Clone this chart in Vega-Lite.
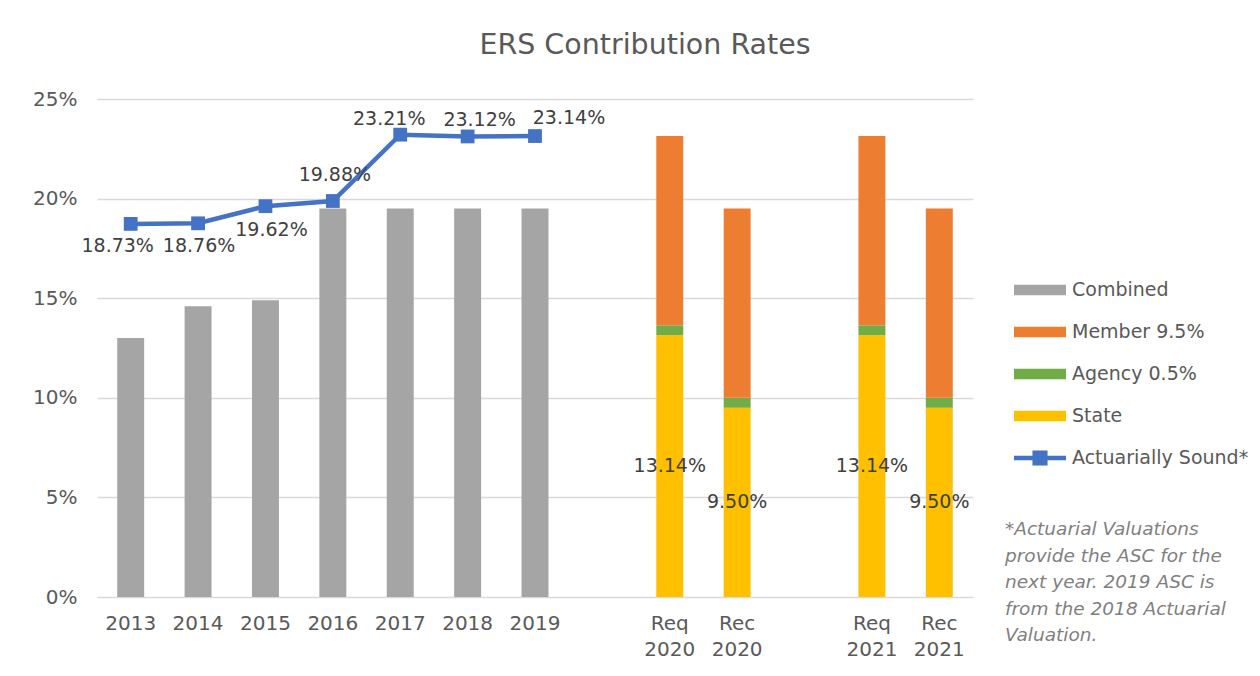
{
  "$schema": "https://vega.github.io/schema/vega-lite/v6.json",
  "width": 876,
  "height": 498,
  "autosize": {"type": "none"},
  "padding": {"left": 97, "top": 99, "right": 287, "bottom": 79},
  "background": "white",
  "title": {
    "text": "ERS Contribution Rates",
    "anchor": "middle",
    "dx": 110,
    "offset": 7,
    "baseline": "alphabetic",
    "fontSize": 28.5,
    "font": "DejaVu Sans",
    "fontWeight": "normal",
    "color": "#595959"
  },
  "config": {
    "view": {"stroke": null},
    "font": "DejaVu Sans",
    "text": {"font": "DejaVu Sans"}
  },
  "datasets": {
    "bars": [
      {"cat": "2013", "component": "Combined", "value": 0.130},
      {"cat": "2014", "component": "Combined", "value": 0.146},
      {"cat": "2015", "component": "Combined", "value": 0.149},
      {"cat": "2016", "component": "Combined", "value": 0.195},
      {"cat": "2017", "component": "Combined", "value": 0.195},
      {"cat": "2018", "component": "Combined", "value": 0.195},
      {"cat": "2019", "component": "Combined", "value": 0.195},
      {"cat": "Req 2020", "component": "State", "value": 0.1314},
      {"cat": "Req 2020", "component": "Agency 0.5%", "value": 0.005},
      {"cat": "Req 2020", "component": "Member 9.5%", "value": 0.095},
      {"cat": "Rec 2020", "component": "State", "value": 0.095},
      {"cat": "Rec 2020", "component": "Agency 0.5%", "value": 0.005},
      {"cat": "Rec 2020", "component": "Member 9.5%", "value": 0.095},
      {"cat": "Req 2021", "component": "State", "value": 0.1314},
      {"cat": "Req 2021", "component": "Agency 0.5%", "value": 0.005},
      {"cat": "Req 2021", "component": "Member 9.5%", "value": 0.095},
      {"cat": "Rec 2021", "component": "State", "value": 0.095},
      {"cat": "Rec 2021", "component": "Agency 0.5%", "value": 0.005},
      {"cat": "Rec 2021", "component": "Member 9.5%", "value": 0.095}
    ],
    "asc": [
      {"cat": "2013", "asc": 0.1873},
      {"cat": "2014", "asc": 0.1876},
      {"cat": "2015", "asc": 0.1962},
      {"cat": "2016", "asc": 0.1988},
      {"cat": "2017", "asc": 0.2321},
      {"cat": "2018", "asc": 0.2312},
      {"cat": "2019", "asc": 0.2314}
    ]
  },
  "encoding": {
    "x": {
      "field": "cat",
      "type": "nominal",
      "sort": null,
      "scale": {
        "domain": ["2013", "2014", "2015", "2016", "2017", "2018", "2019", "gap1", "Req 2020", "Rec 2020", "gap2", "Req 2021", "Rec 2021"],
        "paddingInner": 0.6,
        "paddingOuter": 0.3
      },
      "axis": {
        "title": null,
        "labelExpr": "indexof(datum.label, 'gap') >= 0 ? '' : split(datum.label, ' ')",
        "labelAngle": 0,
        "ticks": false,
        "domain": false,
        "grid": false,
        "labelFontSize": 20,
        "labelColor": "#595959",
        "labelPadding": 16,
        "labelLineHeight": 26,
        "labelFont": "DejaVu Sans"
      }
    }
  },
  "layer": [
    {
      "data": {"name": "bars"},
      "transform": [
        {"calculate": "indexof(['Combined', 'State', 'Agency 0.5%', 'Member 9.5%'], datum.component)", "as": "stackIdx"}
      ],
      "mark": {"type": "bar"},
      "encoding": {
        "y": {
          "field": "value",
          "type": "quantitative",
          "stack": "zero",
          "scale": {"domain": [0, 0.25], "nice": false},
          "axis": {
            "title": null,
            "format": ".0%",
            "values": [0, 0.05, 0.1, 0.15, 0.2, 0.25],
            "ticks": false,
            "domain": false,
            "gridColor": "#D9D9D9",
            "gridWidth": 1.5,
            "labelFontSize": 20,
            "labelColor": "#595959",
            "labelPadding": 20,
            "labelFont": "DejaVu Sans"
          }
        },
        "order": {"field": "stackIdx", "type": "quantitative"},
        "color": {
          "field": "component",
          "type": "nominal",
          "scale": {
            "domain": ["Combined", "Member 9.5%", "Agency 0.5%", "State", "Actuarially Sound*"],
            "range": ["#A5A5A5", "#ED7D31", "#70AD47", "#FFC000", "#4472C4"]
          },
          "legend": {
            "orient": "none",
            "legendX": 908,
            "legendY": 165,
            "symbolOffset": 9,
            "title": ["*Actuarial Valuations", "provide the ASC for the", "next year. 2019 ASC is", "from the 2018 Actuarial", "Valuation."],
            "titleOrient": "bottom",
            "titleAnchor": "start",
            "titleAlign": "left",
            "titleFont": "DejaVu Sans",
            "titleFontSize": 18.5,
            "titleFontStyle": "italic",
            "titleFontWeight": "normal",
            "titleColor": "#7F7F7F",
            "titleLineHeight": 26.5,
            "titlePadding": 52,
            "titleLimit": 400,
            "labelFont": "DejaVu Sans",
            "labelFontSize": 19,
            "labelColor": "#595959",
            "labelOffset": 6,
            "labelLimit": 400,
            "symbolType": "M-1,-0.2H1V0.2H-1Z",
            "symbolSize": 2704,
            "symbolStrokeWidth": 0,
            "rowPadding": 6,
            "encode": {
              "symbols": {
                "update": {
                  "shape": {"signal": "datum.value === 'Actuarially Sound*' ? 'M-1,-0.085H-0.29V-0.29H0.29V-0.085H1V0.085H0.29V0.29H-0.29V0.085H-1Z' : 'M-1,-0.2H1V0.2H-1Z'"}
                }
              }
            }
          }
        }
      }
    },
    {
      "data": {"name": "bars"},
      "transform": [
        {"filter": "datum.component === 'State'"},
        {"calculate": "datum.value / 2", "as": "mid"}
      ],
      "mark": {"type": "text", "fontSize": 19, "color": "#404040", "align": "center", "baseline": "middle"},
      "encoding": {
        "y": {"field": "mid", "type": "quantitative"},
        "text": {"field": "value", "type": "quantitative", "format": ".2%"}
      }
    },
    {
      "data": {"name": "asc"},
      "mark": {
        "type": "line",
        "color": "#4472C4",
        "strokeWidth": 4.5,
        "point": {"shape": "square", "size": 190, "filled": true, "color": "#4472C4", "opacity": 1}
      },
      "encoding": {
        "y": {"field": "asc", "type": "quantitative"}
      }
    },
    {
      "data": {"name": "asc"},
      "transform": [{"filter": "datum.cat === '2013'"}],
      "mark": {"type": "text", "fontSize": 19, "color": "#404040", "dx": -13, "dy": 22},
      "encoding": {"y": {"field": "asc", "type": "quantitative"}, "text": {"field": "asc", "type": "quantitative", "format": ".2%"}}
    },
    {
      "data": {"name": "asc"},
      "transform": [{"filter": "datum.cat === '2014'"}],
      "mark": {"type": "text", "fontSize": 19, "color": "#404040", "dx": 1, "dy": 23},
      "encoding": {"y": {"field": "asc", "type": "quantitative"}, "text": {"field": "asc", "type": "quantitative", "format": ".2%"}}
    },
    {
      "data": {"name": "asc"},
      "transform": [{"filter": "datum.cat === '2015'"}],
      "mark": {"type": "text", "fontSize": 19, "color": "#404040", "dx": 6, "dy": 24},
      "encoding": {"y": {"field": "asc", "type": "quantitative"}, "text": {"field": "asc", "type": "quantitative", "format": ".2%"}}
    },
    {
      "data": {"name": "asc"},
      "transform": [{"filter": "datum.cat === '2016'"}],
      "mark": {"type": "text", "fontSize": 19, "color": "#404040", "dx": 2, "dy": -26},
      "encoding": {"y": {"field": "asc", "type": "quantitative"}, "text": {"field": "asc", "type": "quantitative", "format": ".2%"}}
    },
    {
      "data": {"name": "asc"},
      "transform": [{"filter": "datum.cat === '2017'"}],
      "mark": {"type": "text", "fontSize": 19, "color": "#404040", "dx": -11, "dy": -16},
      "encoding": {"y": {"field": "asc", "type": "quantitative"}, "text": {"field": "asc", "type": "quantitative", "format": ".2%"}}
    },
    {
      "data": {"name": "asc"},
      "transform": [{"filter": "datum.cat === '2018'"}],
      "mark": {"type": "text", "fontSize": 19, "color": "#404040", "dx": 12, "dy": -16},
      "encoding": {"y": {"field": "asc", "type": "quantitative"}, "text": {"field": "asc", "type": "quantitative", "format": ".2%"}}
    },
    {
      "data": {"name": "asc"},
      "transform": [{"filter": "datum.cat === '2019'"}],
      "mark": {"type": "text", "fontSize": 19, "color": "#404040", "dx": 34, "dy": -18},
      "encoding": {"y": {"field": "asc", "type": "quantitative"}, "text": {"field": "asc", "type": "quantitative", "format": ".2%"}}
    }
  ]
}
